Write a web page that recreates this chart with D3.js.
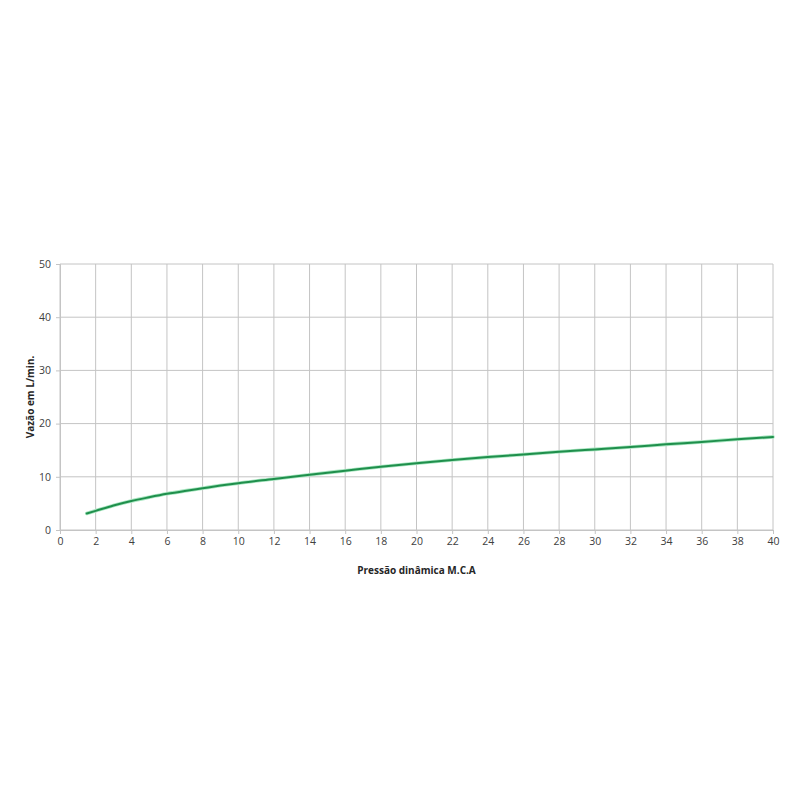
<!DOCTYPE html>
<html>
<head>
<meta charset="utf-8">
<script src="https://cdn.jsdelivr.net/npm/d3@7"></script>
<style>
	body { margin: 0; background: #fff; }
	text { font-family: "Open Sans", "Liberation Sans", sans-serif; fill: #404040; }
</style>
</head>
<body>
<div id="chart-area"></div>
<script>
// SVG size
const width = 800,
	height = 800;
const margin = {left: 60, right: 27, top: 264, bottom: 270};

// Data
const pressao = [1.5, 2, 3, 4, 5, 6, 7, 8, 9, 10, 12, 14, 16, 18, 20, 22, 24, 26, 28, 30, 32, 34, 36, 38, 40];
const vazao = [3.1, 3.6, 4.6, 5.45, 6.15, 6.8, 7.35, 7.85, 8.35, 8.8, 9.6, 10.4, 11.15, 11.9, 12.55, 13.15, 13.7, 14.2, 14.7, 15.15, 15.6, 16.1, 16.55, 17.05, 17.5];
const xTicks = d3.range(0, 41, 2);
const yTicks = [0, 10, 20, 30, 40, 50];

const data = pressao.map((p, i) => ({x: p, y: vazao[i]}));

let svg = d3.select("#chart-area")
	.append("svg")
	.attr("width", width)
	.attr("height", height);

const xScale = d3.scaleLinear()
	.domain([0, 40])
	.range([margin.left, width - margin.right]);

const yScale = d3.scaleLinear()
	.domain([0, 50])
	.range([height - margin.bottom, margin.top]);

// Grid lines
svg.append("g")
	.selectAll("line")
	.data(xTicks)
	.enter()
	.append("line")
	.attr("x1", d => xScale(d))
	.attr("x2", d => xScale(d))
	.attr("y1", yScale(0))
	.attr("y2", yScale(50))
	.style("stroke", "#c4c4c4")
	.style("stroke-width", 1);

svg.append("g")
	.selectAll("line")
	.data(yTicks)
	.enter()
	.append("line")
	.attr("x1", xScale(0))
	.attr("x2", xScale(40))
	.attr("y1", d => yScale(d))
	.attr("y2", d => yScale(d))
	.style("stroke", "#c4c4c4")
	.style("stroke-width", 1);

// Axes
const xAxis = d3.axisBottom(xScale).tickValues(xTicks).tickSize(4).tickPadding(4);
const yAxis = d3.axisLeft(yScale).tickValues(yTicks).tickSize(4).tickPadding(5);

const gx = svg.append("g")
	.attr("class", "x-axis")
	.attr("transform", "translate(0," + yScale(0) + ")")
	.call(xAxis);

const gy = svg.append("g")
	.attr("class", "y-axis")
	.attr("transform", "translate(" + xScale(0) + ",0)")
	.call(yAxis);

[gx, gy].forEach(g => {
	g.select(".domain").style("stroke", "#c4c4c4");
	g.selectAll(".tick line").style("stroke", "#c4c4c4");
	g.selectAll(".tick text")
		.style("font-size", "10.5px")
		.style("fill", "#404040")
		.style("font-family", "'Open Sans', sans-serif");
});

// Curve
const line = d3.line()
	.x(d => xScale(d.x))
	.y(d => yScale(d.y))
	.curve(d3.curveMonotoneX);

svg.append("path")
	.datum(data)
	.attr("d", line)
	.style("fill", "none")
	.style("stroke", "#a8e6c0")
	.style("stroke-width", 3.6)
	.style("stroke-linecap", "round");

svg.append("path")
	.datum(data)
	.attr("d", line)
	.style("fill", "none")
	.style("stroke", "#1f8f4c")
	.style("stroke-width", 2)
	.style("stroke-linecap", "round");

// Axis labels
svg.append("text")
	.attr("text-anchor", "middle")
	.attr("x", (xScale(0) + xScale(40)) / 2)
	.attr("y", yScale(0) + 44)
	.style("font-size", "10px")
	.style("font-weight", "bold")
	.style("fill", "#262626")
	.text("Pressão dinâmica M.C.A");

svg.append("text")
	.attr("text-anchor", "middle")
	.attr("transform", "rotate(-90)")
	.attr("x", -(yScale(0) + yScale(50)) / 2)
	.attr("y", 34)
	.style("font-size", "10px")
	.style("font-weight", "bold")
	.style("fill", "#262626")
	.text("Vazão em L/min.");
</script>
</body>
</html>
